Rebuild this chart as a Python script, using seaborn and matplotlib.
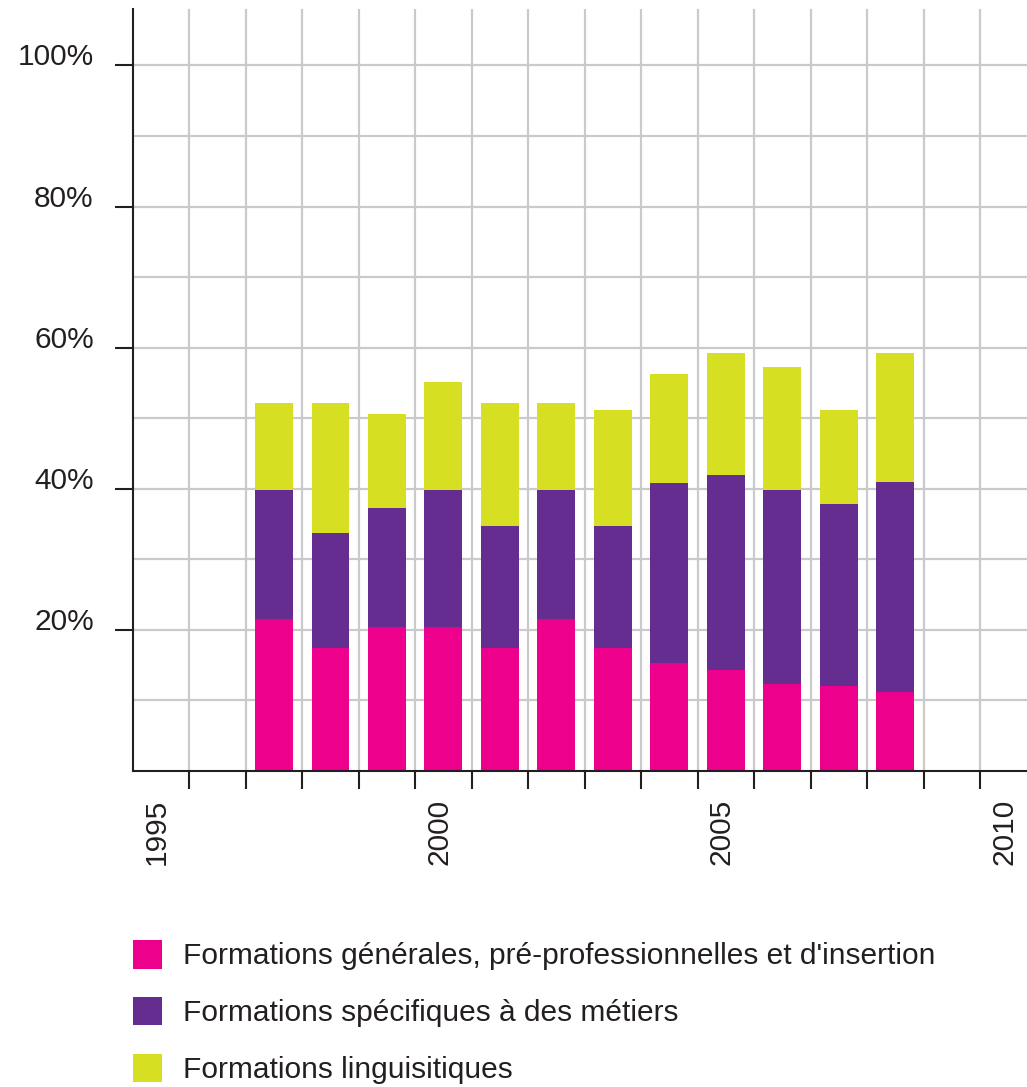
import numpy as np
import pandas as pd
import matplotlib
matplotlib.use("Agg")
import matplotlib.pyplot as plt
import seaborn as sns
from matplotlib.patches import Patch
from matplotlib.ticker import FixedLocator, FuncFormatter
from matplotlib.transforms import ScaledTranslation

# parts (%) of each training type, stacked bottom to top
years = list(range(1997, 2009))
generales = [21.5, 17.5, 20.4, 20.4, 17.5, 21.5, 17.4, 15.3, 14.3, 12.3, 12.1, 11.2]
metiers = [18.3, 16.3, 16.9, 19.4, 17.2, 18.3, 17.3, 25.5, 27.6, 27.5, 25.7, 29.7]
linguistiques = [12.3, 18.3, 13.3, 15.4, 17.4, 12.3, 16.4, 15.4, 17.4, 17.4, 13.3, 18.4]

legend_labels = [
    "Formations générales, pré-professionnelles et d'insertion",
    "Formations spécifiques à des métiers",
    "Formations linguisitiques",
]
colors = ["#ec008c", "#652d90", "#d7df23"]
year_ticks = [1995, 2000, 2005, 2010]
pct_ticks = [20, 40, 60, 80, 100]

sns.set_style("white")
plt.rcParams["font.family"] = ["Liberation Sans", "DejaVu Sans"]
dark = "#231f20"
grid_col = "#cacacc"

df = pd.DataFrame({"annee": years, "generales": generales,
                   "metiers": metiers, "linguistiques": linguistiques})
df["bas"] = df["generales"]
df["milieu"] = df["bas"] + df["metiers"]
df["haut"] = df["milieu"] + df["linguistiques"]

W, H = 1027, 1087
fig = plt.figure(figsize=(W / 100, H / 100), dpi=100)
ax = fig.add_axes([132.7 / W, (H - 771) / H, (W - 132.7) / W, (771 - 9) / H])

# stacked bars: draw cumulative totals from the top segment down
for col, color in zip(["haut", "milieu", "bas"], colors[::-1]):
    sns.barplot(data=df, x="annee", y=col, color=color, native_scale=True,
                width=0.67, saturation=1, linewidth=0, ax=ax)

ax.set_xlim(1994.5, 2010.33)
ax.set_ylim(0, 108)
ax.set_xlabel("")
ax.set_ylabel("")

ax.xaxis.set_major_locator(FixedLocator(year_ticks))
ax.xaxis.set_minor_locator(FixedLocator(np.arange(1995.5, 2010, 1)))
ax.xaxis.set_major_formatter(FuncFormatter(lambda v, p: f"{v:.0f}"))
ax.yaxis.set_major_locator(FixedLocator(pct_ticks))
ax.yaxis.set_minor_locator(FixedLocator([10, 30, 50, 70, 90]))
ax.yaxis.set_major_formatter(FuncFormatter(lambda v, p: f"{v:.0f}%"))

ax.set_axisbelow(True)
ax.grid(False)
ax.grid(which="minor", axis="x", color=grid_col, linewidth=1.6)
ax.grid(which="both", axis="y", color=grid_col, linewidth=1.6)

ax.tick_params(axis="x", which="major", bottom=True, length=0, pad=20,
               labelsize=21.5, labelcolor=dark, labelrotation=90)
ax.tick_params(axis="x", which="minor", bottom=True, length=13, width=1.5,
               color=dark)
ax.tick_params(axis="y", which="major", left=True, length=13, width=1.5,
               color=dark, pad=15, labelsize=21.5, labelcolor=dark)
ax.tick_params(axis="y", which="minor", left=True, length=0)
for lab in ax.get_yticklabels():
    lab.set_verticalalignment("baseline")
shift = ScaledTranslation(-4 / 100, 0, fig.dpi_scale_trans)
for lab in ax.get_xticklabels():
    lab.set_transform(lab.get_transform() + shift)

for side in ["top", "right"]:
    ax.spines[side].set_visible(False)
for side in ["left", "bottom"]:
    ax.spines[side].set_color(dark)
    ax.spines[side].set_linewidth(1.5)

handles = [Patch(facecolor=c, edgecolor="none") for c in colors]
fig.legend(handles, legend_labels, loc="upper left",
           bbox_to_anchor=(132.7 / W, 1 - 940 / H), frameon=False,
           fontsize=21.5, labelcolor=dark, borderpad=0, borderaxespad=0,
           handlelength=0.97, handleheight=1.1, handletextpad=0.7,
           labelspacing=0.88)

fig.savefig("out.png", dpi=100)
